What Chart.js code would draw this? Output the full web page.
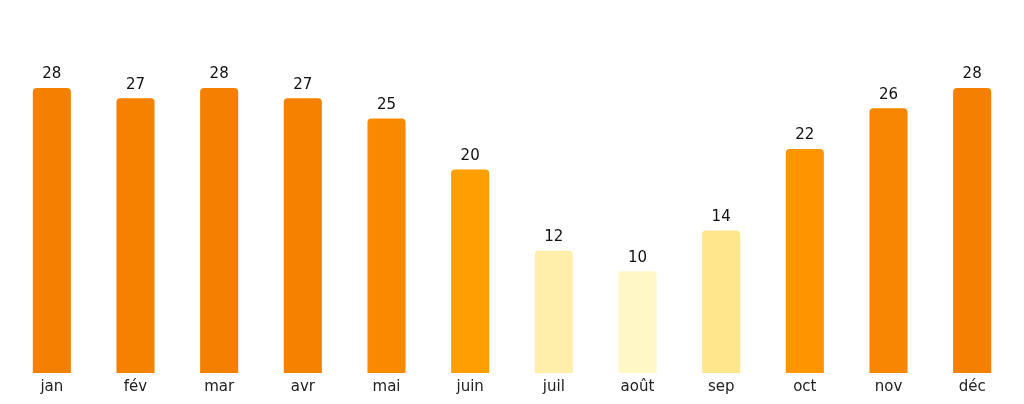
<!DOCTYPE html>
<html>
<head>
<meta charset="utf-8">
<script src="https://cdn.jsdelivr.net/npm/chart.js@4"></script>
<style>
  html, body { margin: 0; padding: 0; background: #fff; }
  #wrap { width: 1024px; height: 404px; }
</style>
</head>
<body>
<div id="wrap"><canvas id="barChart"></canvas></div>
<script>
var months = ['jan', 'fév', 'mar', 'avr', 'mai', 'juin', 'juil', 'août', 'sep', 'oct', 'nov', 'déc'];
var values = [28, 27, 28, 27, 25, 20, 12, 10, 14, 22, 26, 28];
var barColors = [
    '#f57f00', '#f68100', '#f57f00', '#f68100', '#f98a00', '#ff9e00',
    '#ffefaa', '#fff8c6', '#ffe68c', '#fd9400', '#f88600', '#f57f00'
];

// valeurs au-dessus des barres
var valueLabels = {
    id: 'valueLabels',
    afterDatasetsDraw: function (chart) {
        var ctx = chart.ctx;
        var meta = chart.getDatasetMeta(0);
        ctx.save();
        ctx.font = '15px "DejaVu Sans"';
        ctx.fillStyle = '#111';
        ctx.textAlign = 'center';
        ctx.textBaseline = 'bottom';
        meta.data.forEach(function (bar, i) {
            ctx.fillText(values[i], bar.x, bar.y - 6);
        });
        ctx.restore();
    }
};

var barChart = new Chart(document.getElementById('barChart'), {
    type: 'bar',
    data: {
        labels: months,
        datasets: [{
            data: values,
            backgroundColor: barColors,
            borderRadius: { topLeft: 4, topRight: 4 },
            borderSkipped: false,
            categoryPercentage: 1,
            barPercentage: 0.455
        }]
    },
    options: {
        responsive: true,
        maintainAspectRatio: false,
        animation: false,
        layout: { padding: { top: 88, left: 10, right: 10, bottom: 3 } },
        plugins: {
            legend: { display: false },
            tooltip: { enabled: false }
        },
        scales: {
            x: {
                grid: { display: false, drawTicks: false },
                border: { display: false },
                ticks: { color: '#222', font: { family: 'DejaVu Sans', size: 15 }, padding: 5 }
            },
            y: {
                display: false,
                min: 0,
                max: 28
            }
        }
    },
    plugins: [valueLabels]
});
</script>
</body>
</html>
